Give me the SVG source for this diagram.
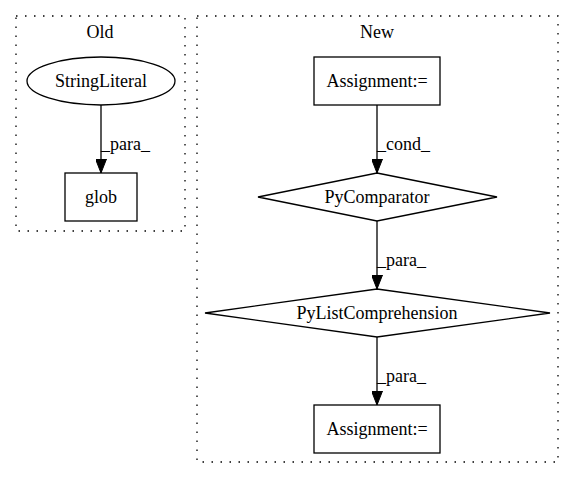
<svg xmlns="http://www.w3.org/2000/svg" width="573" height="480" viewBox="0 0 573 480">
<style>
text{font-family:"Liberation Serif","Times New Roman",serif;font-size:18px;fill:#000}
.c{text-anchor:middle}
.cl{fill:none;stroke:#000;stroke-width:1.3;stroke-dasharray:1.5,7.5}
.n{fill:none;stroke:#000;stroke-width:1.3}
.e{fill:none;stroke:#000;stroke-width:1.3}
</style>
<defs>
<marker id="ah" markerWidth="14" markerHeight="11" refX="14" refY="5.5" orient="auto" markerUnits="userSpaceOnUse">
<path d="M0,0 L14,5.5 L0,11 Z" fill="#000" stroke="#000"/>
</marker>
</defs>
<rect width="573" height="480" fill="#fff"/>
<g id="cluster_old">
<rect class="cl" x="16" y="16" width="169" height="215"/>
<text class="c" x="100" y="38">Old</text>
</g>
<g id="cluster_new">
<rect class="cl" x="197" y="16" width="361" height="446"/>
<text class="c" x="377" y="38">New</text>
</g>
<g id="edges">
<path class="e" d="M101,105 V173" marker-end="url(#ah)"/>
<text x="101" y="150">_para_</text>
<path class="e" d="M377,105 V173" marker-end="url(#ah)"/>
<text x="377" y="150">_cond_</text>
<path class="e" d="M377,221 V289" marker-end="url(#ah)"/>
<text x="377" y="266">_para_</text>
<path class="e" d="M377,337 V405" marker-end="url(#ah)"/>
<text x="377" y="382">_para_</text>
</g>
<g id="StringLiteral">
<ellipse class="n" cx="101" cy="81" rx="74" ry="24"/>
<text class="c" x="101" y="87">StringLiteral</text>
</g>
<g id="glob">
<rect class="n" x="65" y="173" width="72" height="48"/>
<text class="c" x="101" y="203">glob</text>
</g>
<g id="Assignment1">
<rect class="n" x="314" y="57" width="126" height="48"/>
<text class="c" x="377" y="87">Assignment:=</text>
</g>
<g id="PyComparator">
<polygon class="n" points="377,173 497,197 377,221 258,197"/>
<text class="c" x="377" y="203">PyComparator</text>
</g>
<g id="PyListComprehension">
<polygon class="n" points="377,289 550,313 377,337 205,313"/>
<text class="c" x="377" y="319">PyListComprehension</text>
</g>
<g id="Assignment2">
<rect class="n" x="314" y="405" width="126" height="48"/>
<text class="c" x="377" y="435">Assignment:=</text>
</g>
</svg>
